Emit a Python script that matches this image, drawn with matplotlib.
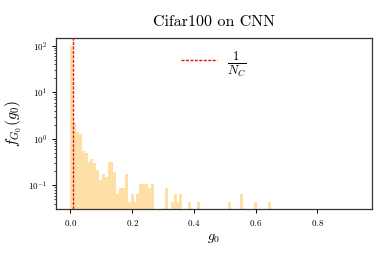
import numpy as np
import matplotlib
matplotlib.use("Agg")
import matplotlib.pyplot as plt

plt.rcParams['font.family'] = 'serif'
plt.rcParams['font.serif'] = ['cmr10', 'DejaVu Serif']
plt.rcParams['mathtext.fontset'] = 'cm'
plt.rcParams['axes.formatter.use_mathtext'] = True
plt.rcParams['axes.unicode_minus'] = False

# ---- data ----
title = "Cifar100 on CNN"
n_classes = 100
n_samples = 5000
g0_min, g0_max, n_bins = 0.0, 0.93, 100
# counts per histogram bin (bins 0..99)
counts = [4560, 104, 66, 59, 26, 23, 15, 17, 14, 10,
          6, 8, 7, 15, 15, 9, 3, 4, 4, 8,
          2, 3, 2, 3, 5, 5, 5, 4, 5, 0,
          0, 0, 0, 4, 0, 2, 3, 2, 3, 0,
          0, 2, 0, 0, 2, 0, 0, 0, 0, 0,
          0, 0, 0, 0, 0, 2, 0, 0, 0, 3,
          0, 0, 0, 0, 2, 0, 0, 0, 0, 2] + [0] * 30

edges = np.linspace(g0_min, g0_max, n_bins + 1)
width = edges[1] - edges[0]
centers = 0.5 * (edges[:-1] + edges[1:])
density = np.array(counts, dtype=float) / (n_samples * width)

fig = plt.figure(figsize=(3.81, 2.54), dpi=100)
ax = fig.add_axes([0.147, 0.177, 0.829, 0.673])

ax.hist(centers, bins=edges, weights=density, color='#FEDFA6', log=True)
ax.axvline(1.0 / n_classes, color='#E8141B', lw=1.0, dashes=(2.2, 1.0),
           label=r'$\frac{1}{N_C}$', zorder=3)

ax.set_yscale('log')
ax.set_xlim(-0.0465, 0.9765)
ax.set_ylim(0.031, 146)
ax.set_xticks([0.0, 0.2, 0.4, 0.6, 0.8])

ax.tick_params(axis='both', which='major', labelsize=6.5, length=3, width=0.7)
ax.tick_params(axis='both', which='minor', length=1.6, width=0.5)
for s in ax.spines.values():
    s.set_linewidth(0.9)
    s.set_color('#333333')

ax.set_title(title, fontsize=11.5, pad=9)
ax.set_xlabel(r'$g_0$', fontsize=10, labelpad=3)
ax.set_ylabel(r'$f_{G_0}(g_0)$', fontsize=11, labelpad=3)

ax.legend(loc='upper left', bbox_to_anchor=(0.345, 1.03), frameon=False,
          fontsize=13, handlelength=2.0, handletextpad=0.55)

fig.savefig('out.png', dpi=100)
